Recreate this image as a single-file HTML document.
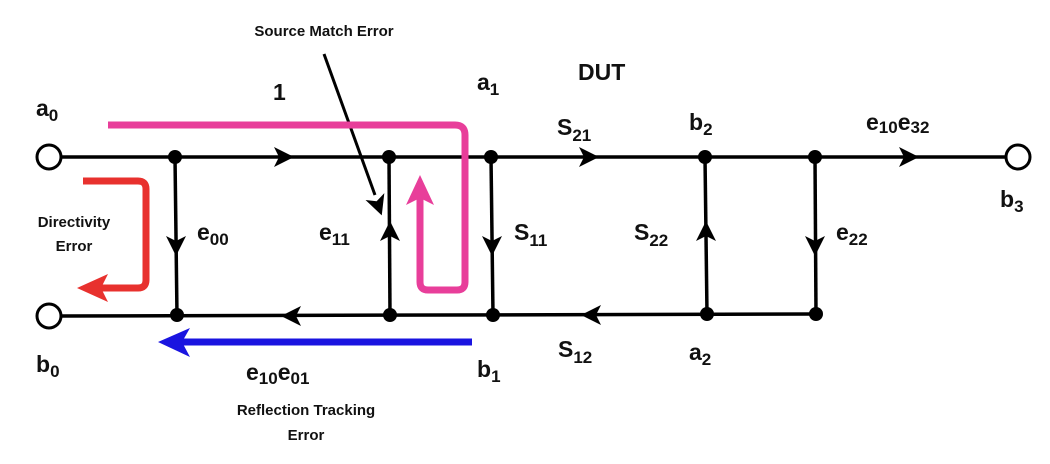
<!DOCTYPE html>
<html><head><meta charset="utf-8"><style>
html,body{margin:0;padding:0;background:#fff;}
svg{display:block;}
text{font-family:"Liberation Sans",Arial,sans-serif;font-weight:bold;fill:#111;}
.l{font-size:23px;}
.s{font-size:15px;}
</style></head><body>
<svg width="1050" height="464" viewBox="0 0 1050 464" xmlns="http://www.w3.org/2000/svg">
<defs>
<path id="ah" d="M11,0 L-9,-10 L-4,0 L-9,10 Z" fill="#000"/>
</defs>
<g stroke="#000" stroke-width="3.5" fill="none">
<line x1="61" y1="157" x2="1006" y2="157"/>
<line x1="61" y1="316" x2="816" y2="314"/>
<line x1="175" y1="157" x2="177" y2="316"/>
<line x1="389" y1="157" x2="390" y2="315"/>
<line x1="491" y1="157" x2="493" y2="315"/>
<line x1="705" y1="157" x2="707" y2="314"/>
<line x1="815" y1="157" x2="816" y2="314"/>
</g>
<circle cx="49" cy="157" r="12" fill="#fff" stroke="#000" stroke-width="3"/>
<circle cx="49" cy="316" r="12" fill="#fff" stroke="#000" stroke-width="3"/>
<circle cx="1018" cy="157" r="12" fill="#fff" stroke="#000" stroke-width="3"/>
<g fill="#000">
<circle cx="175" cy="157" r="7"/><circle cx="389" cy="157" r="7"/><circle cx="491" cy="157" r="7"/><circle cx="705" cy="157" r="7"/><circle cx="815" cy="157" r="7"/>
<circle cx="177" cy="315" r="7"/><circle cx="390" cy="315" r="7"/><circle cx="493" cy="315" r="7"/><circle cx="707" cy="314" r="7"/><circle cx="816" cy="314" r="7"/>
</g>
<use href="#ah" transform="translate(283,157)"/>
<use href="#ah" transform="translate(588,157)"/>
<use href="#ah" transform="translate(908,157)"/>
<use href="#ah" transform="translate(292,316) rotate(180)"/>
<use href="#ah" transform="translate(592,315) rotate(180)"/>
<use href="#ah" transform="translate(176,245) rotate(90)"/>
<use href="#ah" transform="translate(390,232) rotate(-90)"/>
<use href="#ah" transform="translate(492,245) rotate(90)"/>
<use href="#ah" transform="translate(706,232) rotate(-90)"/>
<use href="#ah" transform="translate(815,245) rotate(90)"/>
<line x1="324" y1="54" x2="375" y2="195" stroke="#000" stroke-width="3"/>
<use href="#ah" transform="translate(378,205) rotate(70)"/>
<path d="M108,125 H455 Q465,125 465,135 V282 Q465,290 457,290 H428 Q420,290 420,282 V195" fill="none" stroke="#e83e9a" stroke-width="7"/>
<polygon points="420,175 406,205 420,198 434,205" fill="#e83e9a"/>
<path d="M83,181 H138 Q146,181 146,189 V280 Q146,288 138,288 H95" fill="none" stroke="#e8312e" stroke-width="7"/>
<polygon points="77,288 108,274 101,288 108,302" fill="#e8312e"/>
<line x1="472" y1="342" x2="180" y2="342" stroke="#1a14e0" stroke-width="7"/>
<polygon points="158,342 190,328 182,342 190,357" fill="#1a14e0"/>
<text class="s" x="324" y="36" text-anchor="middle">Source Match Error</text>
<text class="l" x="273" y="100">1</text>
<text class="l" x="36" y="116">a<tspan font-size="17" dy="5">0</tspan></text>
<text class="l" x="36" y="372">b<tspan font-size="17" dy="5">0</tspan></text>
<text class="l" x="477" y="90">a<tspan font-size="17" dy="5">1</tspan></text>
<text class="l" x="578" y="80">DUT</text>
<text class="l" x="557" y="135">S<tspan font-size="17" dy="6">21</tspan></text>
<text class="l" x="689" y="130">b<tspan font-size="17" dy="5">2</tspan></text>
<text class="l" x="866" y="130">e<tspan font-size="17" dy="3">10</tspan><tspan dy="-3">e</tspan><tspan font-size="17" dy="3">32</tspan></text>
<text class="l" x="1000" y="207">b<tspan font-size="17" dy="5">3</tspan></text>
<text class="s" x="74" y="227" text-anchor="middle">Directivity</text>
<text class="s" x="74" y="251" text-anchor="middle">Error</text>
<text class="l" x="197" y="240">e<tspan font-size="17" dy="5">00</tspan></text>
<text class="l" x="319" y="240">e<tspan font-size="17" dy="5">11</tspan></text>
<text class="l" x="514" y="240">S<tspan font-size="17" dy="6">11</tspan></text>
<text class="l" x="634" y="240">S<tspan font-size="17" dy="6">22</tspan></text>
<text class="l" x="836" y="240">e<tspan font-size="17" dy="5">22</tspan></text>
<text class="l" x="558" y="357">S<tspan font-size="17" dy="6">12</tspan></text>
<text class="l" x="689" y="360">a<tspan font-size="17" dy="5">2</tspan></text>
<text class="l" x="477" y="377">b<tspan font-size="17" dy="5">1</tspan></text>
<text class="l" x="246" y="380">e<tspan font-size="17" dy="4">10</tspan><tspan dy="-4">e</tspan><tspan font-size="17" dy="4">01</tspan></text>
<text class="s" x="306" y="415" text-anchor="middle">Reflection Tracking</text>
<text class="s" x="306" y="440" text-anchor="middle">Error</text>
</svg>
</body></html>
